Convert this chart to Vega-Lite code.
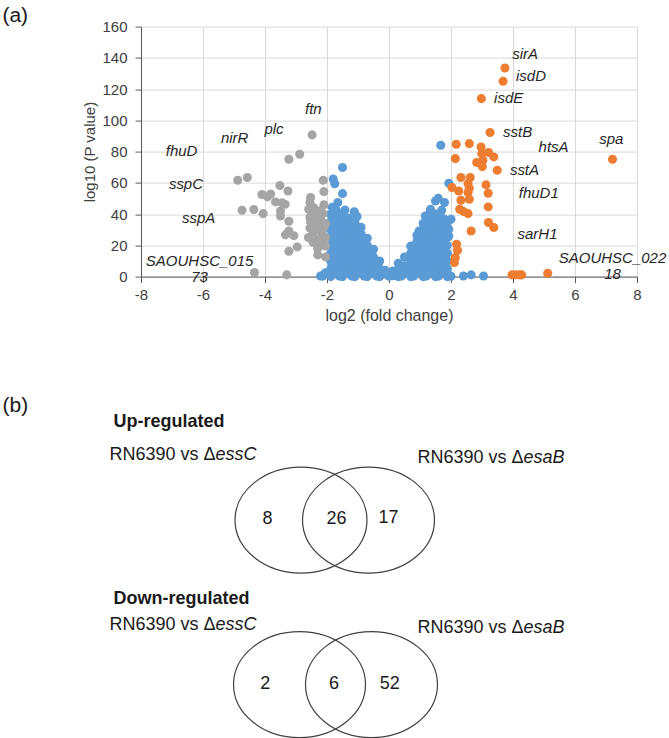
{
"$schema":"https://vega.github.io/schema/vega-lite/v6.json",
"padding":{"left":2,"top":4.6,"right":5,"bottom":0},
"config":{"font":"Liberation Sans","view":{"stroke":null},"axis":{"labelFont":"Liberation Sans","titleFont":"Liberation Sans"}},
"spacing":67,
"datasets":{
"points":[
{"lfc":-2.15,"lp":0.5,"grp":"ns"},{"lfc":-2.05,"lp":2.5,"grp":"ns"},
{"lfc":-1.88,"lp":0,"grp":"ns"},{"lfc":-1.88,"lp":5,"grp":"ns"},{"lfc":-1.88,"lp":10,"grp":"ns"},{"lfc":-1.88,"lp":15,"grp":"ns"},{"lfc":-1.88,"lp":20,"grp":"ns"},{"lfc":-1.88,"lp":25,"grp":"ns"},{"lfc":-1.88,"lp":30,"grp":"ns"},{"lfc":-1.88,"lp":35,"grp":"ns"},{"lfc":-1.88,"lp":40,"grp":"ns"},
{"lfc":-1.7,"lp":2.5,"grp":"ns"},{"lfc":-1.7,"lp":7.5,"grp":"ns"},{"lfc":-1.7,"lp":12.5,"grp":"ns"},{"lfc":-1.7,"lp":17.5,"grp":"ns"},{"lfc":-1.7,"lp":22.5,"grp":"ns"},{"lfc":-1.7,"lp":27.5,"grp":"ns"},{"lfc":-1.7,"lp":32.5,"grp":"ns"},{"lfc":-1.7,"lp":37.5,"grp":"ns"},{"lfc":-1.7,"lp":42.5,"grp":"ns"},
{"lfc":-1.5,"lp":0,"grp":"ns"},{"lfc":-1.5,"lp":5,"grp":"ns"},{"lfc":-1.5,"lp":10,"grp":"ns"},{"lfc":-1.5,"lp":15,"grp":"ns"},{"lfc":-1.5,"lp":20,"grp":"ns"},{"lfc":-1.5,"lp":25,"grp":"ns"},{"lfc":-1.5,"lp":30,"grp":"ns"},{"lfc":-1.5,"lp":35,"grp":"ns"},{"lfc":-1.5,"lp":40,"grp":"ns"},
{"lfc":-1.3,"lp":2.5,"grp":"ns"},{"lfc":-1.3,"lp":7.5,"grp":"ns"},{"lfc":-1.3,"lp":12.5,"grp":"ns"},{"lfc":-1.3,"lp":17.5,"grp":"ns"},{"lfc":-1.3,"lp":22.5,"grp":"ns"},{"lfc":-1.3,"lp":27.5,"grp":"ns"},{"lfc":-1.3,"lp":32.5,"grp":"ns"},{"lfc":-1.3,"lp":37.5,"grp":"ns"},
{"lfc":-1.1,"lp":0,"grp":"ns"},{"lfc":-1.1,"lp":5,"grp":"ns"},{"lfc":-1.1,"lp":10,"grp":"ns"},{"lfc":-1.1,"lp":15,"grp":"ns"},{"lfc":-1.1,"lp":20,"grp":"ns"},{"lfc":-1.1,"lp":25,"grp":"ns"},{"lfc":-1.1,"lp":30,"grp":"ns"},{"lfc":-1.1,"lp":35,"grp":"ns"},
{"lfc":-0.9,"lp":2.5,"grp":"ns"},{"lfc":-0.9,"lp":7.5,"grp":"ns"},{"lfc":-0.9,"lp":12.5,"grp":"ns"},{"lfc":-0.9,"lp":17.5,"grp":"ns"},{"lfc":-0.9,"lp":22.5,"grp":"ns"},{"lfc":-0.9,"lp":27.5,"grp":"ns"},{"lfc":-0.9,"lp":31.5,"grp":"ns"},
{"lfc":-0.7,"lp":0,"grp":"ns"},{"lfc":-0.7,"lp":5,"grp":"ns"},{"lfc":-0.7,"lp":10,"grp":"ns"},{"lfc":-0.7,"lp":15,"grp":"ns"},{"lfc":-0.7,"lp":20,"grp":"ns"},{"lfc":-0.7,"lp":24.5,"grp":"ns"},
{"lfc":-0.5,"lp":2.5,"grp":"ns"},{"lfc":-0.5,"lp":7.5,"grp":"ns"},{"lfc":-0.5,"lp":12.5,"grp":"ns"},{"lfc":-0.5,"lp":17.5,"grp":"ns"},
{"lfc":-0.3,"lp":0,"grp":"ns"},{"lfc":-0.3,"lp":5,"grp":"ns"},{"lfc":-0.3,"lp":10,"grp":"ns"},
{"lfc":-0.12,"lp":1.5,"grp":"ns"},{"lfc":-0.12,"lp":4,"grp":"ns"},
{"lfc":0.12,"lp":0.5,"grp":"ns"},{"lfc":0.12,"lp":3.5,"grp":"ns"},
{"lfc":0.3,"lp":0,"grp":"ns"},{"lfc":0.3,"lp":4.5,"grp":"ns"},{"lfc":0.3,"lp":8.5,"grp":"ns"},
{"lfc":0.5,"lp":2,"grp":"ns"},{"lfc":0.5,"lp":7,"grp":"ns"},{"lfc":0.5,"lp":12.5,"grp":"ns"},
{"lfc":0.7,"lp":0,"grp":"ns"},{"lfc":0.7,"lp":5,"grp":"ns"},{"lfc":0.7,"lp":10,"grp":"ns"},{"lfc":0.7,"lp":15,"grp":"ns"},{"lfc":0.7,"lp":19.5,"grp":"ns"},
{"lfc":0.9,"lp":2.5,"grp":"ns"},{"lfc":0.9,"lp":7.5,"grp":"ns"},{"lfc":0.9,"lp":12.5,"grp":"ns"},{"lfc":0.9,"lp":17.5,"grp":"ns"},{"lfc":0.9,"lp":22.5,"grp":"ns"},{"lfc":0.9,"lp":26.5,"grp":"ns"},
{"lfc":1.1,"lp":0,"grp":"ns"},{"lfc":1.1,"lp":5,"grp":"ns"},{"lfc":1.1,"lp":10,"grp":"ns"},{"lfc":1.1,"lp":15,"grp":"ns"},{"lfc":1.1,"lp":20,"grp":"ns"},{"lfc":1.1,"lp":25,"grp":"ns"},{"lfc":1.1,"lp":30,"grp":"ns"},{"lfc":1.1,"lp":34,"grp":"ns"},
{"lfc":1.3,"lp":2.5,"grp":"ns"},{"lfc":1.3,"lp":7.5,"grp":"ns"},{"lfc":1.3,"lp":12.5,"grp":"ns"},{"lfc":1.3,"lp":17.5,"grp":"ns"},{"lfc":1.3,"lp":22.5,"grp":"ns"},{"lfc":1.3,"lp":27.5,"grp":"ns"},{"lfc":1.3,"lp":32.5,"grp":"ns"},{"lfc":1.3,"lp":37.5,"grp":"ns"},
{"lfc":1.5,"lp":0,"grp":"ns"},{"lfc":1.5,"lp":5,"grp":"ns"},{"lfc":1.5,"lp":10,"grp":"ns"},{"lfc":1.5,"lp":15,"grp":"ns"},{"lfc":1.5,"lp":20,"grp":"ns"},{"lfc":1.5,"lp":25,"grp":"ns"},{"lfc":1.5,"lp":30,"grp":"ns"},{"lfc":1.5,"lp":35,"grp":"ns"},{"lfc":1.5,"lp":40,"grp":"ns"},
{"lfc":1.7,"lp":2.5,"grp":"ns"},{"lfc":1.7,"lp":7.5,"grp":"ns"},{"lfc":1.7,"lp":12.5,"grp":"ns"},{"lfc":1.7,"lp":17.5,"grp":"ns"},{"lfc":1.7,"lp":22.5,"grp":"ns"},{"lfc":1.7,"lp":27.5,"grp":"ns"},{"lfc":1.7,"lp":32.5,"grp":"ns"},{"lfc":1.7,"lp":37.5,"grp":"ns"},{"lfc":1.7,"lp":42.5,"grp":"ns"},
{"lfc":1.88,"lp":0,"grp":"ns"},{"lfc":1.88,"lp":5,"grp":"ns"},{"lfc":1.88,"lp":10,"grp":"ns"},{"lfc":1.88,"lp":15,"grp":"ns"},{"lfc":1.88,"lp":20,"grp":"ns"},{"lfc":1.88,"lp":25,"grp":"ns"},{"lfc":1.88,"lp":30,"grp":"ns"},{"lfc":1.88,"lp":35,"grp":"ns"},
{"lfc":-1.6,"lp":0.3,"grp":"ns"},{"lfc":-1.2,"lp":0.3,"grp":"ns"},{"lfc":-0.8,"lp":0.3,"grp":"ns"},{"lfc":-0.4,"lp":0.3,"grp":"ns"},{"lfc":0,"lp":0.2,"grp":"ns"},{"lfc":0.4,"lp":0.3,"grp":"ns"},{"lfc":0.8,"lp":0.3,"grp":"ns"},{"lfc":1.2,"lp":0.3,"grp":"ns"},{"lfc":1.6,"lp":0.3,"grp":"ns"},{"lfc":1.95,"lp":0.5,"grp":"ns"},
{"lfc":1.67,"lp":84.1,"grp":"ns"},{"lfc":-1.5,"lp":69.8,"grp":"ns"},{"lfc":-1.8,"lp":62.5,"grp":"ns"},{"lfc":-1.75,"lp":59.4,"grp":"ns"},{"lfc":1.93,"lp":59.7,"grp":"ns"},{"lfc":-1.5,"lp":53.1,"grp":"ns"},{"lfc":-1.65,"lp":47.4,"grp":"ns"},{"lfc":-1.83,"lp":44.4,"grp":"ns"},{"lfc":-1.42,"lp":42.6,"grp":"ns"},{"lfc":-1.12,"lp":41.5,"grp":"ns"},{"lfc":-1.03,"lp":38.5,"grp":"ns"},{"lfc":1.59,"lp":50.1,"grp":"ns"},{"lfc":1.5,"lp":48.4,"grp":"ns"},{"lfc":1.79,"lp":47.4,"grp":"ns"},{"lfc":1.34,"lp":43.1,"grp":"ns"},{"lfc":2.0,"lp":36.7,"grp":"ns"},{"lfc":1.79,"lp":36.7,"grp":"ns"},{"lfc":1.31,"lp":40.5,"grp":"ns"},{"lfc":1.17,"lp":38.8,"grp":"ns"},{"lfc":1.93,"lp":30.3,"grp":"ns"},{"lfc":1.93,"lp":26.0,"grp":"ns"},{"lfc":0.97,"lp":29.2,"grp":"ns"},{"lfc":1.15,"lp":31.4,"grp":"ns"},{"lfc":-2.14,"lp":0.4,"grp":"ns"},{"lfc":-1.96,"lp":1.9,"grp":"ns"},{"lfc":2.4,"lp":0.4,"grp":"ns"},{"lfc":2.65,"lp":1.1,"grp":"ns"},{"lfc":3.05,"lp":0.4,"grp":"ns"},{"lfc":2.0,"lp":0.2,"grp":"ns"},{"lfc":-1.83,"lp":7.9,"grp":"ns"},{"lfc":-2.21,"lp":0.4,"grp":"ns"},
{"lfc":-2.48,"lp":90.7,"grp":"down"},{"lfc":-2.88,"lp":78.3,"grp":"down"},{"lfc":-3.23,"lp":75.1,"grp":"down"},{"lfc":-4.88,"lp":61.7,"grp":"down"},{"lfc":-4.57,"lp":63.4,"grp":"down"},{"lfc":-2.12,"lp":61.7,"grp":"down"},{"lfc":-3.52,"lp":58.3,"grp":"down"},{"lfc":-3.26,"lp":54.8,"grp":"down"},{"lfc":-2.10,"lp":54.4,"grp":"down"},{"lfc":-4.10,"lp":52.5,"grp":"down"},{"lfc":-3.82,"lp":52.9,"grp":"down"},{"lfc":-3.92,"lp":51.0,"grp":"down"},{"lfc":-3.66,"lp":47.8,"grp":"down"},{"lfc":-3.45,"lp":47.2,"grp":"down"},{"lfc":-3.35,"lp":46.3,"grp":"down"},{"lfc":-2.53,"lp":50.6,"grp":"down"},{"lfc":-2.55,"lp":47.4,"grp":"down"},{"lfc":-2.59,"lp":43.1,"grp":"down"},{"lfc":-4.74,"lp":42.5,"grp":"down"},{"lfc":-4.36,"lp":42.9,"grp":"down"},{"lfc":-4.06,"lp":40.3,"grp":"down"},{"lfc":-3.50,"lp":42.0,"grp":"down"},{"lfc":-3.50,"lp":38.8,"grp":"down"},{"lfc":-2.12,"lp":40.3,"grp":"down"},{"lfc":-3.23,"lp":35.4,"grp":"down"},{"lfc":-2.55,"lp":37.8,"grp":"down"},{"lfc":-2.53,"lp":35.0,"grp":"down"},{"lfc":-3.34,"lp":26.7,"grp":"down"},{"lfc":-3.07,"lp":26.2,"grp":"down"},{"lfc":-3.23,"lp":29.2,"grp":"down"},{"lfc":-2.96,"lp":19.0,"grp":"down"},{"lfc":-3.23,"lp":16.2,"grp":"down"},{"lfc":-2.30,"lp":13.9,"grp":"down"},{"lfc":-2.05,"lp":12.6,"grp":"down"},{"lfc":-2.05,"lp":19.6,"grp":"down"},{"lfc":-4.34,"lp":2.6,"grp":"down"},{"lfc":-3.30,"lp":1.1,"grp":"down"},
{"lfc":-2.55,"lp":31,"grp":"down"},{"lfc":-2.45,"lp":28,"grp":"down"},{"lfc":-2.35,"lp":33,"grp":"down"},{"lfc":-2.25,"lp":30,"grp":"down"},{"lfc":-2.15,"lp":27,"grp":"down"},{"lfc":-2.45,"lp":22,"grp":"down"},{"lfc":-2.3,"lp":24,"grp":"down"},{"lfc":-2.15,"lp":21,"grp":"down"},{"lfc":-2.05,"lp":25,"grp":"down"},{"lfc":-2.35,"lp":38,"grp":"down"},{"lfc":-2.2,"lp":36,"grp":"down"},{"lfc":-2.1,"lp":31,"grp":"down"},{"lfc":-2.25,"lp":42,"grp":"down"},{"lfc":-2.1,"lp":46,"grp":"down"},{"lfc":-2.3,"lp":18,"grp":"down"},{"lfc":-2.6,"lp":25,"grp":"down"},{"lfc":-2.5,"lp":40,"grp":"down"},{"lfc":-2.2,"lp":24,"grp":"down"},{"lfc":-2.4,"lp":35,"grp":"down"},{"lfc":-2.05,"lp":34,"grp":"down"},{"lfc":-2.42,"lp":44,"grp":"down"},
{"lfc":3.74,"lp":133.5,"grp":"up"},{"lfc":3.68,"lp":125.0,"grp":"up"},{"lfc":2.98,"lp":113.9,"grp":"up"},{"lfc":3.26,"lp":92.2,"grp":"up"},{"lfc":2.17,"lp":84.7,"grp":"up"},{"lfc":2.59,"lp":85.1,"grp":"up"},{"lfc":2.97,"lp":83.0,"grp":"up"},{"lfc":3.21,"lp":79.4,"grp":"up"},{"lfc":2.99,"lp":78.7,"grp":"up"},{"lfc":3.38,"lp":76.6,"grp":"up"},{"lfc":2.14,"lp":75.5,"grp":"up"},{"lfc":3.03,"lp":74.5,"grp":"up"},{"lfc":2.83,"lp":73.0,"grp":"up"},{"lfc":3.01,"lp":70.4,"grp":"up"},{"lfc":3.49,"lp":68.1,"grp":"up"},{"lfc":7.21,"lp":75.1,"grp":"up"},{"lfc":2.32,"lp":63.4,"grp":"up"},{"lfc":2.62,"lp":63.4,"grp":"up"},{"lfc":2.55,"lp":59.5,"grp":"up"},{"lfc":3.13,"lp":58.7,"grp":"up"},{"lfc":2.03,"lp":57.0,"grp":"up"},{"lfc":2.25,"lp":54.8,"grp":"up"},{"lfc":2.59,"lp":56.5,"grp":"up"},{"lfc":2.55,"lp":53.8,"grp":"up"},{"lfc":3.20,"lp":53.3,"grp":"up"},{"lfc":2.32,"lp":48.9,"grp":"up"},{"lfc":2.59,"lp":49.5,"grp":"up"},{"lfc":3.20,"lp":44.6,"grp":"up"},{"lfc":2.28,"lp":43.1,"grp":"up"},{"lfc":2.41,"lp":41.6,"grp":"up"},{"lfc":2.55,"lp":40.3,"grp":"up"},{"lfc":3.21,"lp":34.6,"grp":"up"},{"lfc":3.38,"lp":31.4,"grp":"up"},{"lfc":2.65,"lp":29.2,"grp":"up"},{"lfc":2.18,"lp":20.7,"grp":"up"},{"lfc":2.21,"lp":16.9,"grp":"up"},{"lfc":2.14,"lp":12.2,"grp":"up"},{"lfc":2.11,"lp":9.0,"grp":"up"},{"lfc":3.97,"lp":1.1,"grp":"up"},{"lfc":4.07,"lp":1.1,"grp":"up"},{"lfc":4.21,"lp":1.1,"grp":"up"},{"lfc":4.28,"lp":1.1,"grp":"up"},{"lfc":5.12,"lp":2.1,"grp":"up"}
],
"genes":[
{"gene":"sirA","lfc":4.39,"lp":142.3},{"gene":"isdD","lfc":4.58,"lp":128.4},{"gene":"isdE","lfc":3.86,"lp":114.1},{"gene":"ftn","lfc":-2.44,"lp":107.1},{"gene":"plc","lfc":-3.71,"lp":94.3},{"gene":"nirR","lfc":-4.98,"lp":89.0},{"gene":"fhuD","lfc":-6.69,"lp":80.4},{"gene":"sstB","lfc":4.15,"lp":92.6},{"gene":"htsA","lfc":5.31,"lp":83.2},{"gene":"spa","lfc":7.17,"lp":88.3},{"gene":"sstA","lfc":4.37,"lp":68.3},{"gene":"sspC","lfc":-6.55,"lp":59.5},{"gene":"fhuD1","lfc":4.83,"lp":53.8},{"gene":"sspA","lfc":-6.14,"lp":37.8},{"gene":"sarH1","lfc":4.79,"lp":27.5},{"gene":"SAOUHSC_015\n73","lfc":-6.11,"lp":10.25},{"gene":"SAOUHSC_022\n18","lfc":7.21,"lp":11.65}
],
"venn":[
{"kind":"ellipse","vx":32.26,"vy":63.0},{"kind":"ellipse","vx":45.87,"vy":63.0},{"kind":"ellipse","vx":31.96,"vy":16.0},{"kind":"ellipse","vx":46.47,"vy":16.0},
{"kind":"num","txt":"8","vx":25.5,"vy":63.43},{"kind":"num","txt":"26","vx":39.41,"vy":63.43},{"kind":"num","txt":"17","vx":49.9,"vy":63.6},
{"kind":"num","txt":"2","vx":25.06,"vy":16.2},{"kind":"num","txt":"6","vx":38.91,"vy":16.2},{"kind":"num","txt":"52","vx":50.16,"vy":16.2},
{"kind":"head","txt":"Up-regulated","vx":-5.54,"vy":91.14},{"kind":"head","txt":"Down-regulated","vx":-5.54,"vy":40.57},
{"kind":"cmp","txt":"RN6390 vs Δ","vx":15.02,"vy":81.71},{"kind":"cmp","txt":"RN6390 vs Δ","vx":77.12,"vy":80.86},{"kind":"cmp","txt":"RN6390 vs Δ","vx":15.02,"vy":33.14},{"kind":"cmp","txt":"RN6390 vs Δ","vx":77.12,"vy":32.29},
{"kind":"strain","txt":"essC","vx":15.02,"vy":81.71},{"kind":"strain","txt":"esaB","vx":77.12,"vy":80.86},{"kind":"strain","txt":"essC","vx":15.02,"vy":33.14},{"kind":"strain","txt":"esaB","vx":77.12,"vy":32.29},
{"kind":"panel","txt":"(b)","vx":-27.92,"vy":95.71}
]
},
"vconcat":[
{
"width":496,"height":250,
"encoding":{
"x":{"field":"lfc","type":"quantitative","scale":{"domain":[-8,8],"nice":false,"zero":false},"axis":{"values":[-8,-6,-4,-2,0,2,4,6,8],"labelExpr":"replace(datum.label, '−', '-')","title":"log2 (fold change)","grid":true,"gridColor":"#D9D9D9","domainColor":"#595959","tickColor":"#595959","tickSize":6,"labelFontSize":15,"labelColor":"#404040","labelPadding":5,"labelFlush":false,"labelOverlap":false,"titleFontSize":16,"titleFontWeight":"normal","titleColor":"#404040","titlePadding":5}},
"y":{"field":"lp","type":"quantitative","scale":{"domain":[0,160],"nice":false},"axis":{"values":[0,20,40,60,80,100,120,140,160],"title":"log10 (P value)","grid":true,"gridColor":"#D9D9D9","domainColor":"#595959","tickColor":"#595959","tickSize":6,"labelFontSize":15,"labelColor":"#404040","labelPadding":8,"labelOverlap":false,"titleFontSize":15,"titleFontWeight":"normal","titleColor":"#404040","titlePadding":4}}
},
"layer":[
{"data":{"name":"points"},"mark":{"type":"point","filled":true,"size":82,"opacity":1},"encoding":{"color":{"field":"grp","type":"nominal","scale":{"domain":["ns","down","up"],"range":["#5B9BD5","#A5A5A5","#ED7D31"]},"legend":null}}},
{"data":{"name":"genes"},"mark":{"type":"text","fontStyle":"italic","fontSize":15,"lineBreak":"\n","lineHeight":16,"color":"#262626","align":"center","baseline":"middle"},"encoding":{"text":{"field":"gene"}}},
{"data":{"values":[{"label":"(a)","lfc":-12.47,"lp":166.8}]},"mark":{"type":"text","fontSize":21,"align":"left","baseline":"middle","color":"#1a1a1a"},"encoding":{"text":{"field":"label"}}}
]
},
{
"width":496,"height":350,
"data":{"name":"venn"},
"encoding":{
"x":{"field":"vx","type":"quantitative","scale":{"domain":[0,100],"nice":false,"zero":false},"axis":null},
"y":{"field":"vy","type":"quantitative","scale":{"domain":[0,100],"nice":false,"zero":false},"axis":null}
},
"layer":[
{"transform":[{"filter":"datum.kind==='ellipse'"}],"mark":{"type":"point","shape":"M -1 0 A 1 0.803 0 1 1 1 0 A 1 0.803 0 1 1 -1 0 Z","size":17424,"filled":false,"color":"#404040","strokeWidth":1.2,"opacity":1}},
{"transform":[{"filter":"datum.kind==='num'"}],"mark":{"type":"text","fontSize":18,"align":"center","baseline":"middle","color":"#1a1a1a"},"encoding":{"text":{"field":"txt"}}},
{"transform":[{"filter":"datum.kind==='head'"}],"mark":{"type":"text","fontSize":18,"fontWeight":"bold","align":"left","baseline":"middle","color":"#1a1a1a"},"encoding":{"text":{"field":"txt"}}},
{"transform":[{"filter":"datum.kind==='cmp'"}],"mark":{"type":"text","fontSize":18,"align":"right","baseline":"middle","color":"#1a1a1a"},"encoding":{"text":{"field":"txt"}}},
{"transform":[{"filter":"datum.kind==='strain'"}],"mark":{"type":"text","fontSize":18,"fontStyle":"italic","align":"left","baseline":"middle","color":"#1a1a1a"},"encoding":{"text":{"field":"txt"}}},
{"transform":[{"filter":"datum.kind==='panel'"}],"mark":{"type":"text","fontSize":21,"align":"left","baseline":"middle","color":"#1a1a1a"},"encoding":{"text":{"field":"txt"}}}
]
}
]
}
